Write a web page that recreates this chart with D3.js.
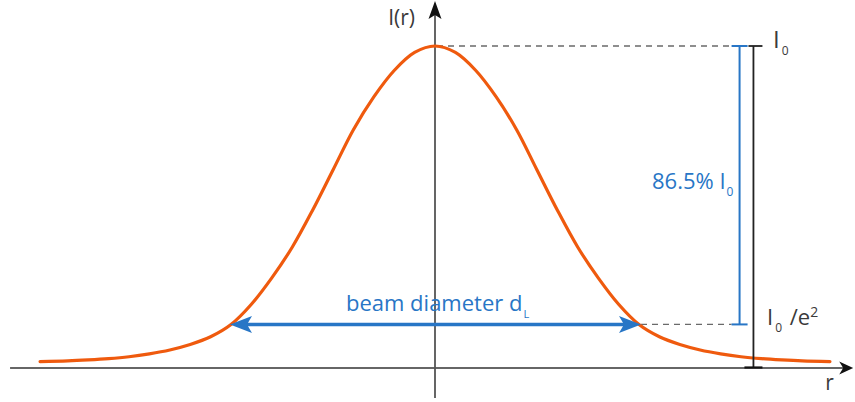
<!DOCTYPE html>
<html>
<head>
<meta charset="utf-8">
<script src="https://cdn.jsdelivr.net/npm/d3@7"></script>
<style>
  html, body { margin: 0; padding: 0; background: #fff; }
  svg { display: block; }
  text { font-family: "Open Sans", "Noto Sans", sans-serif; }
</style>
</head>
<body>
<svg id="chart" width="855" height="402"></svg>
<script>
// Radial intensity profile of the beam: r in units of the 1/e² radius, I in units of I0
const profileR = [-1.936, -1.8, -1.7, -1.6, -1.5, -1.4, -1.3, -1.2, -1.1, -1.0,
                  -0.9, -0.8, -0.7, -0.6, -0.5, -0.4, -0.3, -0.2, -0.1, 0,
                  0.1, 0.2, 0.3, 0.4, 0.5, 0.6, 0.7, 0.8, 0.9, 1.0,
                  1.1, 1.2, 1.3, 1.4, 1.5, 1.6, 1.7, 1.8, 1.936];
const profileI = [0.020, 0.022, 0.025, 0.029, 0.035, 0.044, 0.056, 0.073, 0.097, 0.135,
                  0.198, 0.280, 0.375, 0.490, 0.615, 0.740, 0.842, 0.924, 0.980, 1.000,
                  0.980, 0.924, 0.842, 0.740, 0.615, 0.490, 0.375, 0.280, 0.198, 0.135,
                  0.097, 0.073, 0.056, 0.044, 0.035, 0.029, 0.025, 0.022, 0.020];

// Reference levels
const peakLevel = 1.0;                 // I0
const e2Level = Math.exp(-2);          // I0/e²
const beamRadius = [-1, 1];            // ends of the beam diameter d_L
const fractionLabel = "86.5%";

// Axis extents (data units)
const rAxisExtent = [-2.083, 2.05];
const iAxisExtent = [-0.093, 1.14];
const bracketBlueR = 1.493;
const bracketBlackR = 1.561;

const svg = d3.select("#chart");
const x = d3.scaleLinear().domain([-1, 1]).range([435 - 204, 435 + 204]);
const y = d3.scaleLinear().domain([0, 1]).range([368, 46]);

const dark = "#3a3a3a";
const blue = "#2876c6";
const orange = "#ef5a0e";
const dashGray = "#6a6a6a";

// Dashed guide lines at I0 and I0/e²
svg.append("line")
  .attr("x1", x(0) + 2).attr("x2", x(bracketBlueR) - 8)
  .attr("y1", y(peakLevel)).attr("y2", y(peakLevel))
  .attr("stroke", dashGray).attr("stroke-width", 1.3).attr("stroke-dasharray", "6,5");
svg.append("line")
  .attr("x1", x(beamRadius[1]) + 2).attr("x2", x(bracketBlueR) - 8)
  .attr("y1", y(e2Level)).attr("y2", y(e2Level))
  .attr("stroke", dashGray).attr("stroke-width", 1.3).attr("stroke-dasharray", "6,5");

// r axis
svg.append("line")
  .attr("x1", x(rAxisExtent[0])).attr("x2", x(rAxisExtent[1]) - 6)
  .attr("y1", y(0)).attr("y2", y(0))
  .attr("stroke", "#333").attr("stroke-width", 1.6);
{
  const tx = x(rAxisExtent[1]), ty = y(0);
  svg.append("path")
    .attr("d", `M${tx},${ty} L${tx - 14},${ty - 6.5} L${tx - 10},${ty} L${tx - 14},${ty + 6.5} Z`)
    .attr("fill", "#111");
}

// I axis
svg.append("line")
  .attr("x1", x(0)).attr("x2", x(0))
  .attr("y1", y(iAxisExtent[0])).attr("y2", y(iAxisExtent[1]) + 6)
  .attr("stroke", "#555").attr("stroke-width", 1.8);
{
  const tx = x(0), ty = y(iAxisExtent[1]);
  svg.append("path")
    .attr("d", `M${tx},${ty} L${tx - 6.5},${ty + 18} L${tx},${ty + 14} L${tx + 6.5},${ty + 18} Z`)
    .attr("fill", "#111");
}

// Intensity profile
const line = d3.line()
  .x((d, i) => x(profileR[i]))
  .y(d => y(d))
  .curve(d3.curveCatmullRom.alpha(0.5));
svg.append("path")
  .datum(profileI)
  .attr("d", line)
  .attr("fill", "none")
  .attr("stroke", orange)
  .attr("stroke-width", 3.2)
  .attr("stroke-linecap", "round");

// Black bracket: I0 down to zero
{
  const bx = x(bracketBlackR);
  svg.append("line").attr("x1", bx).attr("x2", bx)
    .attr("y1", y(peakLevel)).attr("y2", y(0))
    .attr("stroke", "#222").attr("stroke-width", 1.8);
  svg.append("line").attr("x1", bx - 5).attr("x2", bx + 9)
    .attr("y1", y(peakLevel)).attr("y2", y(peakLevel))
    .attr("stroke", "#222").attr("stroke-width", 1.8);
  svg.append("line").attr("x1", bx - 9).attr("x2", bx + 9)
    .attr("y1", y(0) - 0.5).attr("y2", y(0) - 0.5)
    .attr("stroke", "#111").attr("stroke-width", 2.2);
}

// Blue bracket: I0 down to I0/e²
{
  const bx = x(bracketBlueR);
  svg.append("line").attr("x1", bx).attr("x2", bx)
    .attr("y1", y(peakLevel)).attr("y2", y(e2Level))
    .attr("stroke", blue).attr("stroke-width", 2);
  [peakLevel, e2Level].forEach(v => {
    svg.append("line").attr("x1", bx - 8).attr("x2", bx + 8)
      .attr("y1", y(v)).attr("y2", y(v))
      .attr("stroke", blue).attr("stroke-width", 2);
  });
}

// Beam diameter double arrow
{
  const ay = y(e2Level);
  const lx = x(beamRadius[0]) - 1, rx = x(beamRadius[1]) + 2;
  svg.append("line").attr("x1", lx + 12).attr("x2", rx - 12)
    .attr("y1", ay).attr("y2", ay)
    .attr("stroke", blue).attr("stroke-width", 3.5);
  svg.append("path")
    .attr("d", `M${lx},${ay} L${lx + 22},${ay - 8.5} L${lx + 17},${ay} L${lx + 22},${ay + 8.5} Z`)
    .attr("fill", blue);
  svg.append("path")
    .attr("d", `M${rx},${ay} L${rx - 22},${ay - 8.5} L${rx - 17},${ay} L${rx - 22},${ay + 8.5} Z`)
    .attr("fill", blue);
}

// Labels
const fs = 21, subFs = 12;

svg.append("text").attr("x", x(0) - 20).attr("y", 25)
  .attr("text-anchor", "end").attr("font-size", fs).attr("fill", dark)
  .text("I(r)");

svg.append("text").attr("x", x(rAxisExtent[1]) - 28).attr("y", 390)
  .attr("font-size", fs).attr("fill", dark)
  .text("r");

{
  const t = svg.append("text").attr("x", 773).attr("y", 48)
    .attr("font-size", fs + 3).attr("fill", dark);
  t.append("tspan").text("I");
  t.append("tspan").attr("dx", 2).attr("dy", 7).attr("font-size", subFs).text("0");
}

{
  const t = svg.append("text").attr("x", 767).attr("y", y(e2Level) + 1)
    .attr("font-size", fs + 1).attr("fill", dark);
  t.append("tspan").text("I");
  t.append("tspan").attr("dx", 2).attr("dy", 7).attr("font-size", subFs).text("0");
  t.append("tspan").attr("dx", 2).attr("dy", -7).text(" /e");
  t.append("tspan").attr("dy", -8).attr("font-size", 14).text("2");
}

{
  const t = svg.append("text").attr("x", 652).attr("y", 189)
    .attr("font-size", fs + 1).attr("fill", blue);
  t.append("tspan").text(fractionLabel + " I");
  t.append("tspan").attr("dx", 1).attr("dy", 7).attr("font-size", subFs).text("0");
}

{
  const t = svg.append("text").attr("x", 346).attr("y", 311)
    .attr("font-size", fs + 1).attr("fill", blue);
  t.append("tspan").text("beam diameter d");
  t.append("tspan").attr("dx", 1).attr("dy", 7).attr("font-size", subFs - 1).text("L");
}
</script>
</body>
</html>
